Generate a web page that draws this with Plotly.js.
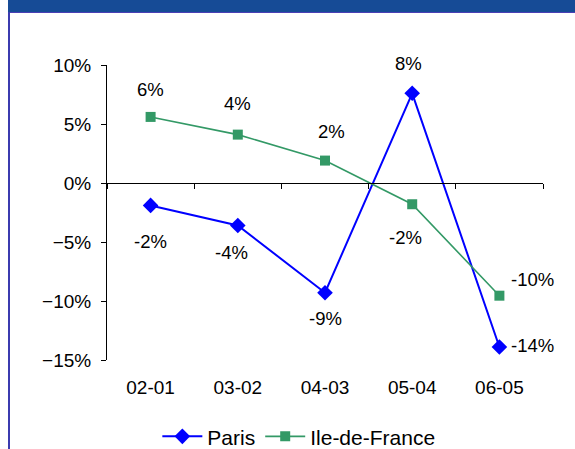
<!DOCTYPE html>
<html>
<head>
<meta charset="utf-8">
<script src="https://cdn.plot.ly/plotly-3.0.1.min.js"></script>
<style>
  html, body { margin: 0; padding: 0; background: #ffffff; }
  #wrap { position: relative; width: 575px; height: 449px; overflow: hidden; }
  #chart { position: absolute; left: 0; top: 0; width: 575px; height: 449px; }
  #band { position: absolute; left: 8px; top: 0; width: 567px; height: 12px; background: #164B96; border-bottom: 1px solid #4B3FB5; }
  #leftbar { position: absolute; left: 8px; top: 12px; width: 2px; height: 437px; background: #3B3BAF; }
</style>
</head>
<body>
<div id="wrap">
  <div id="chart"></div>
  <div id="band"></div>
  <div id="leftbar"></div>
</div>
<script>
// ---- data ----
var categories = ["02-01", "03-02", "04-03", "05-04", "06-05"];
var parisValues = [-1.9, -3.6, -9.3, 7.6, -13.9];
var idfValues = [5.6, 4.1, 1.9, -1.8, -9.55];
var parisLabels = ["-2%", "-4%", "-9%", "8%", "-14%"];
var idfLabels = ["6%", "4%", "2%", "-2%", "-10%"];
var seriesNames = ["Paris", "Ile-de-France"];

// ---- styles (label offsets in pixels) ----
var parisShift = [[0, -36], [-6, -27], [0, -26], [-4, 30], [33, 2]];
var idfShift = [[0, 27], [0, 31], [6, 29], [-7, -33], [33, 16]];

var FONT = "Liberation Sans, Arial, sans-serif";
var BLUE = "#0000FF";
var GREEN = "#339966";

var traces = [
  {
    type: "scatter", mode: "lines+markers", name: seriesNames[0],
    x: categories, y: parisValues,
    line: { color: BLUE, width: 2 },
    marker: { symbol: "diamond", size: 12, color: BLUE },
    xaxis: "x", yaxis: "y", hoverinfo: "skip"
  },
  {
    type: "scatter", mode: "lines+markers", name: seriesNames[1],
    x: categories, y: idfValues,
    line: { color: GREEN, width: 1.6 },
    marker: { symbol: "square", size: 10, color: GREEN },
    xaxis: "x", yaxis: "y", hoverinfo: "skip"
  },
  {
    type: "scatter", mode: "markers", x: categories, y: parisValues,
    marker: { opacity: 0 }, showlegend: false, xaxis: "x2", yaxis: "y", hoverinfo: "skip"
  }
];

var annotations = [];
function addLabels(vals, labels, shifts) {
  for (var i = 0; i < categories.length; i++) {
    annotations.push({
      x: categories[i], y: vals[i], xref: "x", yref: "y",
      text: labels[i], showarrow: false,
      xshift: shifts[i][0], yshift: shifts[i][1],
      font: { family: FONT, size: 18.5, color: "#000000" }
    });
  }
}
addLabels(parisValues, parisLabels, parisShift);
addLabels(idfValues, idfLabels, idfShift);

var layout = {
  width: 575, height: 449,
  margin: { l: 107, r: 32, t: 65, b: 89, pad: 0, autoexpand: false },
  paper_bgcolor: "#ffffff", plot_bgcolor: "#ffffff",
  font: { family: FONT, size: 18, color: "#000000" },
  showlegend: true,
  legend: {
    orientation: "h", x: 0.44, xanchor: "center", y: -0.26, yanchor: "middle",
    font: { family: FONT, size: 21, color: "#000000" },
    bgcolor: "rgba(0,0,0,0)", itemwidth: 40, traceorder: "normal"
  },
  xaxis: {
    type: "category", range: [-0.5, 4.5], autorange: false,
    showline: false, ticks: "", showgrid: false, zeroline: false,
    tickfont: { family: FONT, size: 19, color: "#000000" },
    ticklabelstandoff: 14, fixedrange: true, automargin: false
  },
  xaxis2: {
    type: "category", overlaying: "x", matches: "x", anchor: "free", position: 0.6,
    side: "bottom", showline: true, linecolor: "#000000", linewidth: 1,
    ticks: "outside", tickson: "boundaries", ticklen: 5, tickcolor: "#000000", tickwidth: 1,
    showticklabels: false, showgrid: false, zeroline: false, automargin: false
  },
  yaxis: {
    range: [-15, 10], dtick: 5, tick0: 0, ticksuffix: "%",
    showline: true, linecolor: "#000000", linewidth: 1,
    ticks: "outside", ticklen: 5, tickcolor: "#000000", tickwidth: 1,
    showgrid: false, zeroline: false,
    tickfont: { family: FONT, size: 19, color: "#000000" },
    ticklabelstandoff: 6, fixedrange: true, automargin: false
  },
  annotations: annotations
};

Plotly.newPlot("chart", traces, layout, { displayModeBar: false, staticPlot: true });
</script>
</body>
</html>
